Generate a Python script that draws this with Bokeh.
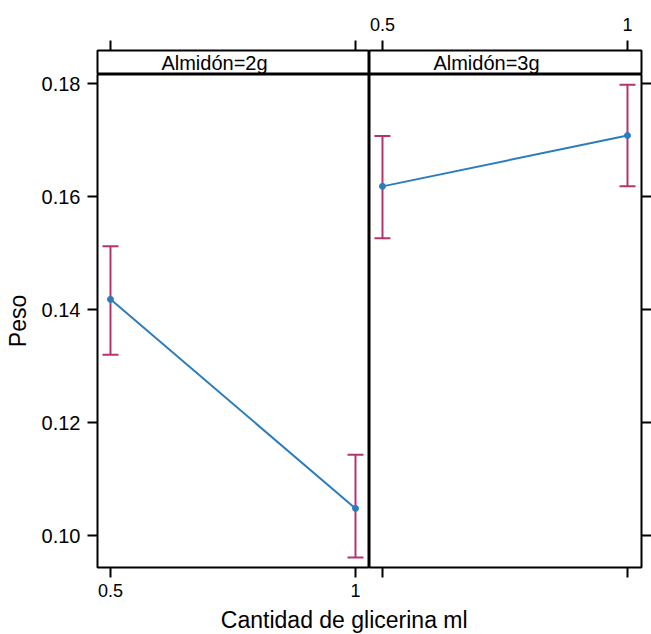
from bokeh.plotting import figure
from bokeh.layouts import column, row
from bokeh.models import (Range1d, FixedTicker, CustomJSTickFormatter, Whisker,
                          TeeHead, ColumnDataSource, Label)
from bokeh.embed import file_html
from bokeh.resources import INLINE

# ---------------- data ----------------
glycerin = [0.5, 1.0]
panel_labels = ["Almidón=2g", "Almidón=3g"]
fit_2g = [0.1418, 0.1048]
lower_2g = [0.1320, 0.0961]
upper_2g = [0.1512, 0.1143]
fit_3g = [0.1618, 0.1708]
lower_3g = [0.1526, 0.1618]
upper_3g = [0.1707, 0.1798]
y_ticks = [0.10, 0.12, 0.14, 0.16, 0.18]
x_ticks = [0.5, 1.0]
y_label = "Peso"
x_label = "Cantidad de glicerina ml"

FONT = "Liberation Sans"
LINE_COLOR = "#2a7dbd"
CI_COLOR = "#b5346f"
FRAME_W = 272
LEFT_B = 97
RIGHT_B = 10
STRIP_H = 24
TOP_B = 50
PANEL_H = 493
BOTTOM_B = 34
XLAB_H = 33

X_START, X_END = 0.4735, 1.0286
Y_START, Y_END = 0.09434, 0.1816

blank = CustomJSTickFormatter(code="return ''")


def style_common(p):
    p.outline_line_color = "black"
    p.outline_line_width = 2
    p.background_fill_color = "white"
    p.border_fill_color = "white"
    p.xgrid.visible = False
    p.ygrid.visible = False


def style_axis(ax, ticks, show_labels, size, standoff):
    ax.ticker = FixedTicker(ticks=ticks)
    ax.major_tick_out = 10
    ax.major_tick_in = 0
    ax.major_tick_line_width = 2
    ax.major_tick_line_color = "black"
    ax.minor_tick_line_color = None
    ax.axis_line_color = None
    ax.major_label_text_font = FONT
    ax.major_label_text_font_size = size
    ax.major_label_text_color = "black"
    ax.major_label_standoff = standoff
    if not show_labels:
        ax.formatter = blank
        ax.major_label_standoff = 0


def make_strip(label, x_range, left_b, right_b, show_labels):
    s = figure(width=left_b + FRAME_W + right_b, height=TOP_B + STRIP_H,
               x_range=x_range, y_range=Range1d(0, 1),
               x_axis_location="above", y_axis_location=None,
               toolbar_location=None, output_backend="svg",
               min_border_left=left_b, min_border_right=right_b,
               min_border_top=TOP_B, min_border_bottom=0)
    style_common(s)
    ax = s.xaxis[0]
    style_axis(ax, x_ticks, show_labels, "18px", 10)
    if show_labels:
        ax.formatter = CustomJSTickFormatter(code="return String(tick)")
    s.add_layout(Label(x=(x_range.start + x_range.end) / 2, y=0.5, x_offset=-19,
                       text=label, text_align="center", text_baseline="middle",
                       text_font=FONT, text_font_size="20px", text_color="black"))
    return s


def make_panel(x_range, y_range, left_b, right_b, side, show_x_labels,
               fit, lower, upper):
    p = figure(width=left_b + FRAME_W + right_b, height=PANEL_H + BOTTOM_B,
               x_range=x_range, y_range=y_range,
               x_axis_location="below", y_axis_location=side,
               toolbar_location=None, output_backend="svg",
               min_border_left=left_b, min_border_right=right_b,
               min_border_top=0, min_border_bottom=BOTTOM_B)
    style_common(p)
    style_axis(p.xaxis[0], x_ticks, show_x_labels, "18px", 6)
    if show_x_labels:
        p.xaxis[0].formatter = CustomJSTickFormatter(code="return String(tick)")
    yax = p.yaxis[0]
    if side == "left":
        style_axis(yax, y_ticks, True, "20px", 7)
        yax.formatter = CustomJSTickFormatter(code="return tick.toFixed(2)")
        yax.axis_label = y_label
        yax.axis_label_text_font = FONT
        yax.axis_label_text_font_size = "23px"
        yax.axis_label_text_font_style = "normal"
        yax.axis_label_text_color = "black"
        yax.axis_label_standoff = 8
    else:
        style_axis(yax, y_ticks, False, "20px", 0)
        yax.major_tick_out = right_b

    src = ColumnDataSource(dict(x=glycerin, fit=fit, lower=lower, upper=upper))
    p.add_layout(Whisker(base="x", lower="lower", upper="upper", source=src,
                         line_color=CI_COLOR, line_width=2,
                         lower_head=TeeHead(size=16, line_color=CI_COLOR, line_width=2),
                         upper_head=TeeHead(size=16, line_color=CI_COLOR, line_width=2)))
    p.line("x", "fit", source=src, line_color=LINE_COLOR, line_width=2)
    p.scatter("x", "fit", source=src, size=6, color=LINE_COLOR)
    return p


xr1 = Range1d(X_START, X_END)
xr2 = Range1d(X_START, X_END)
yr = Range1d(Y_START, Y_END)

s1 = make_strip(panel_labels[0], xr1, LEFT_B, 0, False)
s2 = make_strip(panel_labels[1], xr2, 0, RIGHT_B, True)
p1 = make_panel(xr1, yr, LEFT_B, 0, "left", True, fit_2g, lower_2g, upper_2g)
p2 = make_panel(xr2, yr, 0, RIGHT_B, "right", False, fit_3g, lower_3g, upper_3g)

total_w = LEFT_B + 2 * FRAME_W + RIGHT_B
xl = figure(width=total_w, height=XLAB_H, x_range=Range1d(0, 1), y_range=Range1d(0, 1),
            x_axis_location=None, y_axis_location=None,
            toolbar_location=None, output_backend="svg",
            min_border=0)
xl.outline_line_color = None
xl.xgrid.visible = False
xl.ygrid.visible = False
xl.add_layout(Label(x=0.528, y=0.45, text=x_label, text_align="center",
                    text_baseline="alphabetic", text_font=FONT,
                    text_font_size="23px", text_color="black"))

layout = column(row(s1, s2), row(p1, p2), xl)

with open("out.html", "w") as f:
    f.write(file_html(layout, INLINE))
